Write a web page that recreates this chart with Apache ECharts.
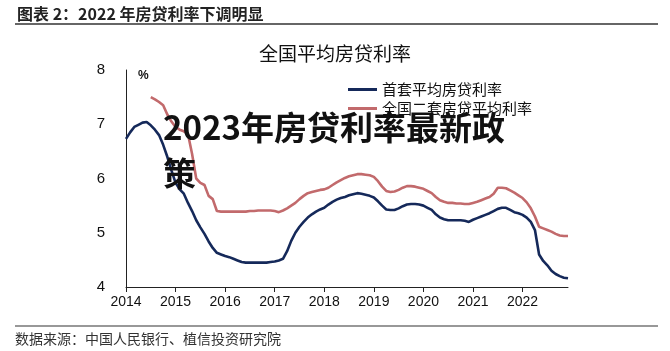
<!DOCTYPE html>
<html lang="zh">
<head>
    <meta charset="UTF-8">
    <title>全国平均房贷利率</title>
    <script type="text/javascript" src="https://cdn.jsdelivr.net/npm/echarts@6/dist/echarts.min.js"></script>
    <style>
        body { margin: 0; background: #fff; }
    </style>
</head>
<body>
<div id="main" style="height: 351px; width: 670px"></div>
<script>
    // 月度数据 2014-01 ~ 2022-12
    let years = [2014, 2015, 2016, 2017, 2018, 2019, 2020, 2021, 2022];
    let yTicks = [4, 5, 6, 7, 8];
    let firstRate = [
        6.73, 6.85, 6.95, 6.99, 7.03, 7.04, 6.98, 6.90, 6.80, 6.62, 6.40, 6.15,
        5.92, 5.80, 5.72, 5.55, 5.40, 5.23, 5.10, 4.98, 4.84, 4.72, 4.63, 4.60,
        4.57, 4.55, 4.52, 4.49, 4.46, 4.45, 4.45, 4.45, 4.45, 4.45, 4.45, 4.46,
        4.47, 4.49, 4.52, 4.66, 4.85, 5.00, 5.11, 5.20, 5.28, 5.34, 5.39, 5.43,
        5.46, 5.52, 5.57, 5.61, 5.64, 5.66, 5.69, 5.71, 5.73, 5.72, 5.70, 5.68,
        5.65, 5.58, 5.50, 5.43, 5.42, 5.42, 5.45, 5.49, 5.52, 5.53, 5.53, 5.52,
        5.50, 5.46, 5.42, 5.34, 5.28, 5.25, 5.23, 5.23, 5.23, 5.23, 5.22, 5.20,
        5.24, 5.27, 5.30, 5.33, 5.36, 5.40, 5.44, 5.46, 5.46, 5.42, 5.38, 5.36,
        5.33, 5.28, 5.20, 5.05, 4.60, 4.48, 4.40, 4.30, 4.24, 4.20, 4.17, 4.16
    ];
    let secondRate = [
        null, null, null, null, null, null, 7.50, 7.46, 7.41, 7.35, 7.18, 7.05,
        6.95, 6.90, 6.87, 6.82, 6.45, 6.00, 5.92, 5.88, 5.68, 5.62, 5.40, 5.39,
        5.39, 5.39, 5.39, 5.39, 5.39, 5.39, 5.40, 5.40, 5.41, 5.41, 5.41, 5.41,
        5.40, 5.38, 5.41, 5.45, 5.50, 5.55, 5.62, 5.68, 5.73, 5.75, 5.77, 5.79,
        5.80, 5.83, 5.88, 5.93, 5.97, 6.01, 6.04, 6.06, 6.08, 6.08, 6.07, 6.06,
        6.03, 5.95, 5.85, 5.77, 5.75, 5.76, 5.79, 5.83, 5.86, 5.86, 5.85, 5.83,
        5.81, 5.77, 5.73, 5.66, 5.60, 5.57, 5.55, 5.55, 5.54, 5.54, 5.53, 5.53,
        5.55, 5.57, 5.60, 5.63, 5.66, 5.72, 5.83, 5.83, 5.82, 5.78, 5.74, 5.69,
        5.64, 5.56, 5.45, 5.30, 5.11, 5.08, 5.05, 5.02, 4.98, 4.95, 4.94, 4.94
    ];

    let months = [];
    years.forEach(function (y) {
        for (let m = 1; m <= 12; m++) months.push(y + '-' + (m < 10 ? '0' + m : m));
    });

    let cjk = '"Noto Sans CJK SC", sans-serif';
    let myChart = echarts.init(document.getElementById('main'));
    let option = {
        animation: false,
        grid: { left: 126, right: 102, top: 70, bottom: 64 },
        legend: {
            orient: 'vertical',
            left: 343,
            top: 77,
            itemWidth: 29,
            itemHeight: 3,
            itemGap: 4,
            icon: 'rect',
            textStyle: { fontFamily: cjk, fontSize: 15, color: '#111' },
            data: ['首套平均房贷利率', '全国二套房贷平均利率']
        },
        xAxis: {
            type: 'category',
            data: months,
            boundaryGap: false,
            axisLine: { lineStyle: { color: '#222', width: 1 } },
            axisTick: {
                length: 5,
                lineStyle: { color: '#222' },
                interval: function (i) { return i % 12 === 0; }
            },
            axisLabel: {
                interval: function (i) { return i % 12 === 0; },
                formatter: function (v) { return v.slice(0, 4); },
                fontFamily: 'Arial, "Liberation Sans", sans-serif',
                fontSize: 14,
                color: '#111',
                margin: 8
            },
            splitLine: { show: false }
        },
        yAxis: {
            type: 'value',
            min: yTicks[0],
            max: yTicks[yTicks.length - 1],
            interval: 1,
            axisLine: { show: true, lineStyle: { color: '#222', width: 1 } },
            axisTick: { show: false },
            axisLabel: {
                fontFamily: 'Arial, "Liberation Sans", sans-serif',
                fontSize: 15,
                color: '#111',
                margin: 21
            },
            splitLine: { show: false }
        },
        series: [
            {
                name: '首套平均房贷利率',
                type: 'line',
                data: firstRate,
                showSymbol: false,
                lineStyle: { color: '#15295a', width: 2.6 },
                itemStyle: { color: '#15295a' }
            },
            {
                name: '全国二套房贷平均利率',
                type: 'line',
                data: secondRate,
                showSymbol: false,
                lineStyle: { color: '#c26a6c', width: 2.6 },
                itemStyle: { color: '#c26a6c' }
            }
        ],
        graphic: [
            {
                type: 'text', left: 17, top: 6,
                style: { text: '图表 2：2022 年房贷利率下调明显', font: 'bold 16px ' + cjk, fill: '#222' }
            },
            {
                type: 'line', shape: { x1: 15, y1: 24, x2: 658, y2: 24 },
                style: { stroke: '#333', lineWidth: 1.5 }
            },
            {
                type: 'text', left: 'center', top: 44,
                style: { text: '全国平均房贷利率', font: '19px ' + cjk, fill: '#111' }
            },
            {
                type: 'text', left: 138, top: 70,
                style: { text: '%', font: 'bold 12px Arial, sans-serif', fill: '#111' }
            },
            {
                type: 'line', shape: { x1: 15, y1: 326, x2: 658, y2: 326 },
                style: { stroke: '#333', lineWidth: 1.2 }
            },
            {
                type: 'text', left: 15, top: 332,
                style: { text: '数据来源：中国人民银行、植信投资研究院', font: '14px ' + cjk, fill: '#333' }
            },
            {
                type: 'text', left: 163, top: 104, z: 100,
                style: {
                    text: '2023年房贷利率最新政\n策',
                    font: 'bold 33px ' + cjk,
                    lineHeight: 46,
                    fill: '#111'
                }
            }
        ]
    };
    myChart.setOption(option);
</script>
</body>
</html>
